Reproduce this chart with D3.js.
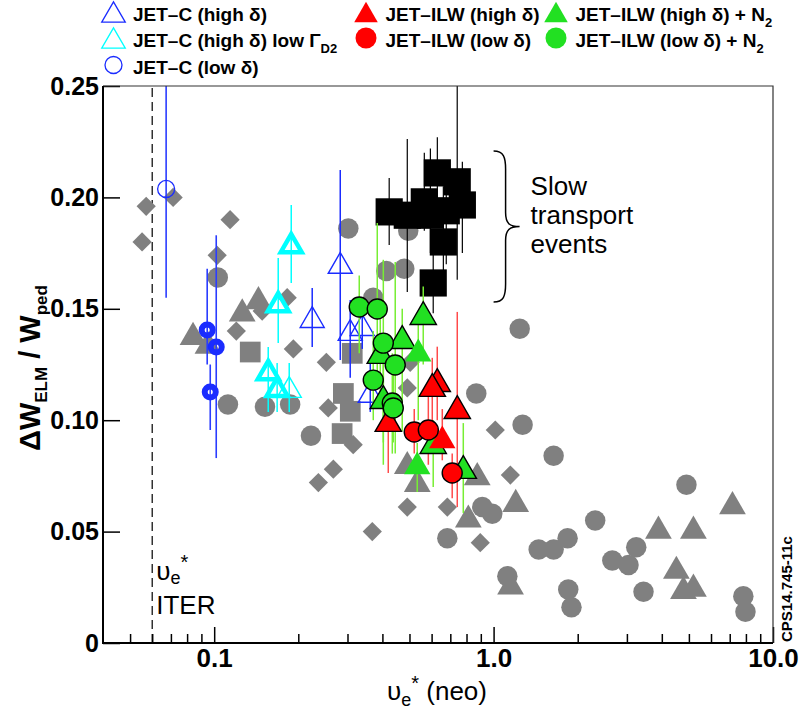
<!DOCTYPE html>
<html>
<head>
<meta charset="utf-8">
<script src="https://d3js.org/d3.v7.min.js"></script>
<style>
  body { margin: 0; background: #fff; }
  svg text { font-family: "Liberation Sans", Arial, Helvetica, sans-serif; fill: #000; }
</style>
</head>
<body>
<svg id="chart" width="799" height="710"></svg>
<script>
// ---- data (x = nu_e* neo, y = dW_ELM / W_ped) ----
const xTicksMajor = [0.1, 1, 10];
const xTickLabels = ["0.1", "1.0", "10.0"];
const xTicksMinor = [0.05, 0.06, 0.07, 0.08, 0.09, 0.2, 0.3, 0.4, 0.5, 0.6, 0.7, 0.8, 0.9, 2, 3, 4, 5, 6, 7, 8, 9];
const yTicks = [0, 0.05, 0.1, 0.15, 0.2, 0.25];
const yTickLabels = ["0", "0.05", "0.10", "0.15", "0.20", "0.25"];
const nuIter = 0.06;

// other machines / database (grey)
const grayCircles = [[0.103,0.164],[0.112,0.107],[0.152,0.106],[0.187,0.107],[0.222,0.093],[0.302,0.186],
  [0.495,0.185],[0.413,0.167],[0.479,0.168],[0.371,0.155],[1.24,0.141],[0.867,0.112],[1.27,0.098],
  [1.64,0.084],[0.683,0.047],[0.911,0.061],[0.989,0.058],[4.90,0.071],[2.31,0.055],[1.45,0.042],
  [1.64,0.042],[1.84,0.047],[2.66,0.037],[3.04,0.035],[3.24,0.043],[3.44,0.023],[1.85,0.024],
  [1.90,0.016],[7.83,0.021],[7.97,0.014],[1.12,0.030]];
const grayTriangles = [[0.084,0.139],[0.095,0.135],[0.126,0.1495],[0.144,0.155],[0.533,0.073],[0.491,0.081],
  [0.874,0.076],[0.812,0.057],[1.20,0.064],[3.89,0.052],[5.19,0.052],[7.16,0.063],[4.51,0.034],
  [4.78,0.025],[5.19,0.026],[1.15,0.027]];
const grayDiamonds = [[0.0552,0.180],[0.0571,0.196],[0.0713,0.200],[0.114,0.190],[0.1025,0.174],[0.1825,0.155],
  [0.1485,0.149],[0.120,0.140],[0.192,0.132],[0.252,0.126],[0.256,0.1055],[0.236,0.072],[0.267,0.078],
  [0.3145,0.089],[0.503,0.126],[0.491,0.1145],[0.491,0.061],[0.683,0.061],[0.368,0.050],[0.896,0.045],
  [1.014,0.0956],[1.148,0.0754]];
const graySquares = [[0.1346,0.1306],[0.312,0.130],[0.290,0.112],[0.307,0.104],[0.287,0.094]];

// [x, y, low, high]
const slowEvents = [[0.423,0.1935,0.1786,0.2087],[0.491,0.192,0.1575,0.2262],[0.565,0.198,0.185,0.220],
  [0.629,0.211,0.195,0.227],[0.741,0.207,0.163,0.26],[0.773,0.1966,0.175,0.216],[0.661,0.180,0.160,0.205],
  [0.608,0.1616,0.148,0.180],[0.594,0.192,0.175,0.222],[0.677,0.194,0.170,0.210]];
const jetcHigh = [[0.2826,0.1706,0.127,0.2123],[0.2243,0.1463,0.1329,0.1593],[0.3068,0.1405,0.119,0.154],
  [0.3388,0.1427,0.132,0.152],[0.3619,0.1127,0.1037,0.1257]];
// last field: 1 = thick outline
const jetcLowGamma = [[0.1887,0.1795,0.1616,0.1966,1],[0.1695,0.153,0.1346,0.1728,1],[0.1561,0.1225,0.1037,0.1329,1],
  [0.168,0.1149,0.1037,0.1257,1],[0.1856,0.1149,0.1037,0.1257,0]];
const jetcLow = [[0.0673,0.2038,0.155,0.26,0],[0.0944,0.1405,0.125,0.168,1],[0.1017,0.1329,0.083,0.183,1],
  [0.0968,0.1127,0.0956,0.125,1]];
// last field: 1 = black outline
const ilwHigh = [[0.6286,0.118,0.100,0.133,1],[0.6033,0.1158,0.095,0.128,1],[0.7413,0.1059,0.061,0.1486,1],
  [0.4198,0.1001,0.0763,0.110,1],[0.6552,0.0925,0.082,0.105,0]];
const ilwLow = [[0.520,0.0947,0.085,0.105],[0.584,0.0956,0.080,0.112],[0.711,0.0763,0.065,0.085]];
const ilwHighN2 = [[0.560,0.1481,0.125,0.160,1],[0.471,0.1373,0.095,0.150,1],[0.5375,0.1315,0.100,0.143,0],
  [0.393,0.1306,0.105,0.150,1],[0.403,0.1104,0.080,0.130,1],[0.608,0.0902,0.070,0.100,1],
  [0.533,0.0808,0.0678,0.0898,0],[0.779,0.079,0.0583,0.0987,1]];
const ilwLowN2 = [[0.3305,0.1508,0.130,0.165],[0.3834,0.1499,0.115,0.1885],[0.403,0.1346,0.090,0.172],
  [0.4446,0.1248,0.085,0.171],[0.371,0.118,0.100,0.140],[0.434,0.1077,0.085,0.130],[0.4375,0.1055,0.090,0.125]];

const legendItems = [
  {label: "JET\u2013C (high \u03b4)", sub: "", col: 0, row: 0, shape: "tri", fill: "none", stroke: "#1a2cff", sw: 1.3},
  {label: "JET\u2013C (high \u03b4) low \u0393", sub: "D2", col: 0, row: 1, shape: "tri", fill: "none", stroke: "#00ffff", sw: 1.3},
  {label: "JET\u2013C (low \u03b4)", sub: "", col: 0, row: 2, shape: "ocirc", fill: "none", stroke: "#1a2cff", sw: 1.3},
  {label: "JET\u2013ILW (high \u03b4)", sub: "", col: 1, row: 0, shape: "tri", fill: "#ff0000", stroke: "none", sw: 0},
  {label: "JET\u2013ILW (low \u03b4)", sub: "", col: 1, row: 1, shape: "circ", fill: "#ff0000", stroke: "none", sw: 0},
  {label: "JET\u2013ILW (high \u03b4) + N", sub: "2", col: 2, row: 0, shape: "tri", fill: "#22e022", stroke: "none", sw: 0},
  {label: "JET\u2013ILW (low \u03b4) + N", sub: "2", col: 2, row: 1, shape: "circ", fill: "#22e022", stroke: "none", sw: 0}
];

// ---- scales ----
const x = d3.scaleLog().domain([0.04, 10]).range([103, 773]);
const y = d3.scaleLinear().domain([0, 0.25]).range([643, 86]);

const svg = d3.select("#chart");
svg.append("clipPath").attr("id", "plotclip")
  .append("rect").attr("x", 103).attr("y", 86).attr("width", 670).attr("height", 557);

const GRAY = "#808080";

// symbol helpers; triangles are shifted so their box centre sits on the point
function triPath(size) { return d3.symbol().type(d3.symbolTriangle).size(size)(); }
function triOff(size) { return Math.sqrt(size / (3 * Math.sqrt(3))) / 2; }
const circPath = s => d3.symbol().type(d3.symbolCircle).size(s)();
const sqPath = s => d3.symbol().type(d3.symbolSquare).size(s)();

const plot = svg.append("g").attr("clip-path", "url(#plotclip)");

// ITER collisionality line
plot.append("line")
  .attr("x1", x(nuIter)).attr("x2", x(nuIter))
  .attr("y1", y(0)).attr("y2", y(0.25))
  .attr("stroke", "#000").attr("stroke-width", 1.2).attr("stroke-dasharray", "9,5");

// grey database
plot.selectAll(".gd").data(grayDiamonds).enter().append("path")
  .attr("d", sqPath(185))
  .attr("transform", d => `translate(${x(d[0])},${y(d[1])}) rotate(45)`)
  .attr("fill", GRAY);
plot.selectAll(".gs").data(graySquares).enter().append("path")
  .attr("d", sqPath(430))
  .attr("transform", d => `translate(${x(d[0])},${y(d[1])})`)
  .attr("fill", GRAY);
plot.selectAll(".gt").data(grayTriangles).enter().append("path")
  .attr("d", triPath(310))
  .attr("transform", d => `translate(${x(d[0])},${y(d[1]) + triOff(310)})`)
  .attr("fill", GRAY);
plot.selectAll(".gc").data(grayCircles).enter().append("path")
  .attr("d", circPath(330))
  .attr("transform", d => `translate(${x(d[0])},${y(d[1])})`)
  .attr("fill", GRAY);

function errBars(data, color, width) {
  plot.append("g").selectAll("line").data(data).enter().append("line")
    .attr("x1", d => x(d[0])).attr("x2", d => x(d[0]))
    .attr("y1", d => y(d[2])).attr("y2", d => y(d[3]))
    .attr("stroke", color).attr("stroke-width", width);
}

// slow transport events
errBars(slowEvents, "#000", 1.2);
plot.append("g").selectAll("path").data(slowEvents).enter().append("path")
  .attr("d", sqPath(740))
  .attr("transform", d => `translate(${x(d[0])},${y(d[1])})`)
  .attr("fill", "#000");

// JET-C
errBars(jetcHigh, "#1a2cff", 1.5);
errBars(jetcLowGamma, "#00ffff", 1.5);
errBars(jetcLow, "#2a3cff", 1.6);
plot.append("g").selectAll("path").data(jetcHigh).enter().append("path")
  .attr("d", triPath(250))
  .attr("transform", d => `translate(${x(d[0])},${y(d[1]) + triOff(250)})`)
  .attr("fill", "none").attr("stroke", "#1a2cff").attr("stroke-width", 1.4);
plot.append("g").selectAll("path").data(jetcLowGamma).enter().append("path")
  .attr("d", d => triPath(d[4] ? 190 : 250))
  .attr("transform", d => `translate(${x(d[0])},${y(d[1]) + triOff(d[4] ? 190 : 250)})`)
  .attr("fill", "none").attr("stroke", "#00ffff").attr("stroke-width", d => d[4] ? 4.5 : 1.4);
plot.append("g").selectAll("circle").data(jetcLow).enter().append("circle")
  .attr("cx", d => x(d[0])).attr("cy", d => y(d[1]))
  .attr("r", d => d[4] ? 5.5 : 8.5)
  .attr("fill", "none").attr("stroke", "#1a2cff").attr("stroke-width", d => d[4] ? 6 : 1.3);

// JET-ILW
errBars(ilwHigh, "#ff4a4a", 1.5);
errBars(ilwLow, "#ff4a4a", 1.5);
errBars(ilwHighN2, "#77ee33", 1.5);
errBars(ilwLowN2, "#77ee33", 1.5);
plot.append("g").selectAll("path").data(ilwHighN2).enter().append("path")
  .attr("d", triPath(300))
  .attr("transform", d => `translate(${x(d[0])},${y(d[1]) + triOff(300)})`)
  .attr("fill", "#22e022").attr("stroke", d => d[4] ? "#000" : "none").attr("stroke-width", 1.4);
plot.append("g").selectAll("path").data(ilwHigh).enter().append("path")
  .attr("d", triPath(300))
  .attr("transform", d => `translate(${x(d[0])},${y(d[1]) + triOff(300)})`)
  .attr("fill", "#ff0000").attr("stroke", d => d[4] ? "#000" : "none").attr("stroke-width", 1.4);
plot.append("g").selectAll("circle").data(ilwLowN2).enter().append("circle")
  .attr("cx", d => x(d[0])).attr("cy", d => y(d[1])).attr("r", 10)
  .attr("fill", "#22e022").attr("stroke", "#000").attr("stroke-width", 1.4);
plot.append("g").selectAll("circle").data(ilwLow).enter().append("circle")
  .attr("cx", d => x(d[0])).attr("cy", d => y(d[1])).attr("r", 10)
  .attr("fill", "#ff0000").attr("stroke", "#000").attr("stroke-width", 1.4);

// ---- axes ----
const gxMinor = svg.append("g").attr("transform", `translate(0,${y(0)})`)
  .call(d3.axisBottom(x).tickValues(xTicksMinor).tickSize(-9).tickSizeOuter(0).tickFormat(""));
const gxMajor = svg.append("g").attr("transform", `translate(0,${y(0)})`)
  .call(d3.axisBottom(x).tickValues(xTicksMajor).tickSize(-16).tickSizeOuter(0).tickPadding(6)
    .tickFormat((d, i) => xTickLabels[i]));
const gy = svg.append("g").attr("transform", `translate(${x(0.04)},0)`)
  .call(d3.axisLeft(y).tickValues(yTicks).tickSize(-17).tickSizeOuter(0).tickPadding(4)
    .tickFormat((d, i) => yTickLabels[i]));
[gxMinor, gxMajor, gy].forEach(g => {
  g.select(".domain").remove();
  g.selectAll(".tick line").attr("stroke", "#000").attr("stroke-width", 1.5);
});
gxMajor.selectAll("text").attr("font-size", 26).attr("font-weight", "bold").attr("fill", "#000");
gy.selectAll("text").attr("font-size", 25).attr("font-weight", "bold").attr("fill", "#000");

// frame
svg.append("path")
  .attr("d", `M${x(0.04)},${y(0.25)} H${x(10)} V${y(0)}`)
  .attr("fill", "none").attr("stroke", "#333").attr("stroke-width", 1.2);
svg.append("path")
  .attr("d", `M${x(0.04)},${y(0.25)} V${y(0)} H${x(10)}`)
  .attr("fill", "none").attr("stroke", "#000").attr("stroke-width", 2);

// axis titles
const xt = svg.append("text").attr("x", 437).attr("y", 700)
  .attr("text-anchor", "middle").attr("font-size", 26);
xt.append("tspan").text("\u03c5");
xt.append("tspan").attr("font-size", 18).attr("dy", 6).text("e");
xt.append("tspan").attr("font-size", 20).attr("dy", -16).text("*");
xt.append("tspan").attr("dy", 10).text(" (neo)");

const yt = svg.append("text")
  .attr("transform", "translate(40,368) rotate(-90)")
  .attr("text-anchor", "middle").attr("font-size", 29).attr("font-weight", "bold");
yt.append("tspan").text("\u0394W");
yt.append("tspan").attr("font-size", 17).attr("dy", 7).text("ELM");
yt.append("tspan").attr("dy", -7).text(" / W");
yt.append("tspan").attr("font-size", 17).attr("dy", 7).text("ped");

// ITER label
const it = svg.append("text").attr("x", x(nuIter) + 4).attr("y", 580).attr("font-size", 26);
it.append("tspan").text("\u03c5");
it.append("tspan").attr("font-size", 18).attr("dy", 4).text("e");
it.append("tspan").attr("font-size", 20).attr("dy", -15).text("*");
svg.append("text").attr("x", x(nuIter) + 4).attr("y", 614).attr("font-size", 26).text("ITER");

// slow transport annotation
const bx = x(1.0), byT = y(0.2208), byB = y(0.153), byM = (byT + byB) / 2;
svg.append("path")
  .attr("d", `M${bx},${byT} C${bx + 10},${byT} ${bx + 12},${byT + 6} ${bx + 12},${byT + 18}
    L${bx + 12},${byM - 14} C${bx + 12},${byM - 3} ${bx + 16},${byM} ${bx + 26},${byM}
    C${bx + 16},${byM} ${bx + 12},${byM + 3} ${bx + 12},${byM + 14}
    L${bx + 12},${byB - 18} C${bx + 12},${byB - 6} ${bx + 10},${byB} ${bx},${byB}`)
  .attr("fill", "none").attr("stroke", "#000").attr("stroke-width", 1.5);
svg.append("g").selectAll("text").data(["Slow", "transport", "events"]).enter().append("text")
  .attr("x", bx + 37).attr("y", (d, i) => byM - 32 + i * 29)
  .attr("font-size", 26).text(d => d);

// image tag
svg.append("text").attr("transform", "translate(792,642) rotate(-90)")
  .attr("font-size", 15).attr("font-weight", "bold").text("CPS14.745-11c");

// ---- legend ----
const colX = [113.5, 366, 556];
const rowY = [12, 38, 65];
const lg = svg.append("g");
legendItems.forEach(it => {
  const cx = colX[it.col], cy = rowY[it.row];
  let p;
  if (it.shape === "tri") {
    p = lg.append("path").attr("d", triPath(240))
      .attr("transform", `translate(${cx},${cy + triOff(240)})`);
  } else if (it.shape === "circ") {
    p = lg.append("circle").attr("cx", cx).attr("cy", cy).attr("r", 10.5);
  } else {
    p = lg.append("circle").attr("cx", cx).attr("cy", cy).attr("r", 8.5);
  }
  p.attr("fill", it.fill).attr("stroke", it.stroke).attr("stroke-width", it.sw);
  const t = lg.append("text").attr("x", cx + 19.5).attr("y", cy + 9)
    .attr("font-size", 19).attr("font-weight", "bold");
  t.append("tspan").text(it.label);
  if (it.sub) t.append("tspan").attr("font-size", 13).attr("dy", 6).text(it.sub);
});
</script>
</body>
</html>
